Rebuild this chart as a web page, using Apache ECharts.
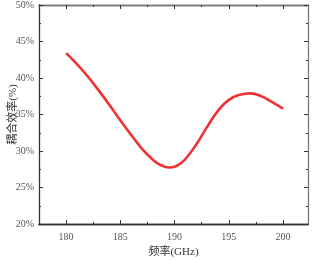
<!DOCTYPE html>
<html>
<head>
<meta charset="utf-8">
<script src="https://cdn.jsdelivr.net/npm/echarts@6/dist/echarts.min.js"></script>
<style>
  html, body { margin: 0; padding: 0; background: #fff; }
  #main { width: 314px; height: 260px; }
</style>
</head>
<body>
<div id="main"></div>
<script>
// 频率 (GHz) and 耦合效率 (%)
const freq = [180, 181, 182, 183, 184, 185, 186, 187, 188, 188.5, 189, 189.5, 190, 190.5, 191, 192, 193, 194, 195, 196, 197, 198, 199, 200];
const eff = [43.4, 41.9, 40.2, 38.3, 36.3, 34.2, 32.2, 30.3, 28.8, 28.25, 27.9, 27.75, 27.85, 28.25, 28.9, 30.9, 33.3, 35.5, 37.0, 37.7, 37.9, 37.5, 36.7, 35.8];
const xMajor = [180, 185, 190, 195, 200];
const xMinor = [182.5, 187.5, 192.5, 197.5];

const font = "'Liberation Serif', 'Noto Sans CJK SC', serif";
const xMin = 177.5, xMax = 202.3;

let chart = echarts.init(document.getElementById('main'));

function xAx(pos, ticks, len, withLabel) {
    return {
        type: 'value',
        position: pos,
        min: xMin,
        max: xMax,
        splitLine: { show: false },
        axisLine: { show: true, onZero: false, lineStyle: { color: pos === 'bottom' ? '#333' : '#777', width: 1.3 } },
        axisTick: { show: true, inside: true, length: len, customValues: ticks, lineStyle: { color: '#333' } },
        axisLabel: withLabel
            ? { show: true, customValues: ticks, color: '#555', fontSize: 10, fontFamily: font, margin: 8 }
            : { show: false },
        name: withLabel ? '频率(GHz)' : '',
        nameLocation: 'middle',
        nameGap: 23,
        nameMoveOverlap: false,
        nameTextStyle: { color: '#333', fontSize: 11, fontFamily: font }
    };
}

function yAx(pos, withLabel) {
    return {
        type: 'value',
        position: pos,
        min: 20,
        max: 50,
        interval: 5,
        splitLine: { show: false },
        axisLine: { show: true, onZero: false, lineStyle: { color: pos === 'left' ? '#333' : '#777', width: 1.3 } },
        axisTick: { show: true, inside: true, length: 4, lineStyle: { color: '#333' } },
        minorTick: { show: true, splitNumber: 2, length: 2, lineStyle: { color: '#333' } },
        axisLabel: withLabel
            ? { show: true, formatter: '{value}%', color: '#555', fontSize: 10, fontFamily: font, margin: 5 }
            : { show: false },
        name: withLabel ? '耦合效率(%)' : '',
        nameLocation: 'middle',
        nameGap: 20,
        nameMoveOverlap: false,
        nameTextStyle: { color: '#333', fontSize: 11, fontFamily: font }
    };
}

let option = {
    animation: false,
    backgroundColor: '#fff',
    grid: { left: 39, right: 6, top: 5, bottom: 36, containLabel: false, outerBoundsMode: 'none' },
    xAxis: [
        xAx('bottom', xMajor, 4, true),
        xAx('bottom', xMinor, 2, false),
        xAx('top', xMajor, 4, false),
        xAx('top', xMinor, 2, false)
    ],
    yAxis: [
        yAx('left', true),
        yAx('right', false)
    ],
    series: [
        {
            type: 'line',
            data: freq.map((f, i) => [f, eff[i]]),
            smooth: true,
            showSymbol: false,
            lineStyle: { color: '#f03232', width: 2.6 }
        }
    ]
};
chart.setOption(option);
</script>
</body>
</html>
